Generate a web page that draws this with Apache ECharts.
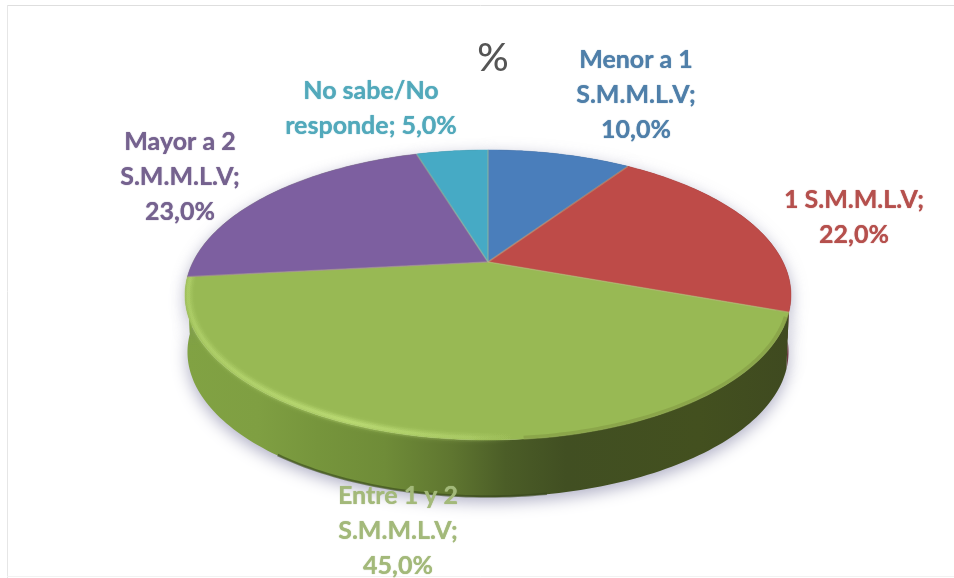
<!DOCTYPE html>
<html>
<head>
<meta charset="utf-8">
<style>
  html, body { margin: 0; padding: 0; background: #fff; }
  #chart { width: 954px; height: 578px; }
</style>
<script src="https://cdn.jsdelivr.net/npm/echarts@6/dist/echarts.min.js"></script>
</head>
<body>
<div id="chart"></div>
<script>
const categories = ['Menor a 1 S.M.M.L.V', '1 S.M.M.L.V', 'Entre 1 y 2 S.M.M.L.V', 'Mayor a 2 S.M.M.L.V', 'No sabe/No responde'];
const sliceValues = [10, 22, 45, 23, 5];
const sliceLabels = [
  'Menor a 1\nS.M.M.L.V;\n10,0%',
  '1 S.M.M.L.V;\n22,0%',
  'Entre 1 y 2\nS.M.M.L.V;\n45,0%',
  'Mayor a 2\nS.M.M.L.V;\n23,0%',
  'No sabe/No\nresponde; 5,0%'
];

const sliceColors = ['#4a7ebb', '#be4b48', '#98b954', '#7d5fa0', '#46aac5'];
const labelColors = ['#4f7fa9', '#b5504d', '#a3b97a', '#75628f', '#52a9bb'];
const labelCenters = [[636, 95], [854, 217], [398, 531], [180, 177], [371, 108]];

// the slices add up to 105, the pie is normalised like the original one
const total = sliceValues.reduce((a, b) => a + b, 0);
const startAngles = [];
sliceValues.reduce((sum, v, i) => {
  startAngles[i] = (sum / total) * Math.PI * 2;
  return sum + v;
}, 0);

// perspective of the tilted disc
const cx = 488, cy = 262, A = 295, B = 137.5, P = 0.2275, depth = 57;

function project(theta, r, drop) {
  const u = Math.sin(theta) * r;
  const v = Math.cos(theta) * r;
  const w = 1 + P * v;
  const k = drop ? 0.992 : 1;
  return [cx + (A * u * k) / w, cy - (B * v) / w + (drop || 0)];
}

function arc(from, to, r, drop) {
  const pts = [];
  const steps = Math.max(2, Math.ceil(Math.abs(to - from) / 0.02));
  for (let i = 0; i <= steps; i++) {
    pts.push(project(from + ((to - from) * i) / steps, r, drop));
  }
  return pts;
}

function sliceRange(i, value) {
  const from = startAngles[i];
  return [from, from + (value / total) * Math.PI * 2];
}

const wallFills = [
  '#2d4a70',
  '#6d2a28',
  new echarts.graphic.LinearGradient(185, 0, 790, 0, [
    { offset: 0, color: '#81a243' },
    { offset: 0.12, color: '#7f9f42' },
    { offset: 0.22, color: '#76953c' },
    { offset: 0.33, color: '#6f8c38' },
    { offset: 0.44, color: '#5f7630' },
    { offset: 0.53, color: '#4b5d27' },
    { offset: 0.63, color: '#414f22' },
    { offset: 0.85, color: '#43501f' },
    { offset: 1, color: '#3f4a20' }
  ], true),
  // only a sliver shows at the far left, the reference has it green there
  '#81a243',
  '#2a6a7a'
];

const rimStroke = new echarts.graphic.LinearGradient(185, 0, 520, 0, [
  { offset: 0, color: 'rgba(196,228,125,0.5)' },
  { offset: 0.5, color: 'rgba(200,232,128,1)' },
  { offset: 0.85, color: 'rgba(190,222,120,0.5)' },
  { offset: 1, color: 'rgba(170,200,100,0)' }
], true);

function renderWall(params, api) {
  const i = params.dataIndex;
  const [from, to] = sliceRange(i, api.value(1));
  const children = [{
    type: 'polygon',
    shape: { points: arc(from, to, 1, 0).concat(arc(to, from, 1, depth)) },
    style: {
      fill: wallFills[i],
      shadowBlur: 16,
      shadowColor: 'rgba(110,110,150,0.55)',
      shadowOffsetY: 5
    }
  }];
  if (sliceValues[i] === Math.max(...sliceValues)) {
    // darker line where the wall meets the floor
    children.push({
      type: 'polyline',
      shape: { points: arc(Math.PI * 0.95, Math.PI * 1.2, 0.998, depth) },
      style: { fill: null, stroke: 'rgba(55,70,28,0.6)', lineWidth: 2.5 }
    });
  }
  return { type: 'group', children };
}

function renderFace(params, api) {
  const i = params.dataIndex;
  const [from, to] = sliceRange(i, api.value(1));
  const children = [{
    type: 'polygon',
    shape: { points: [[cx, cy]].concat(arc(from, to, 1, 0)) },
    style: { fill: sliceColors[i], stroke: sliceColors[i], lineWidth: 0.5 }
  }];
  if (sliceValues[i] === Math.max(...sliceValues)) {
    // soft highlight along the front edge
    const rim = arc(Math.PI * 1.47, Math.PI * 0.98, 0.99, 0);
    [[9, 0.14], [6, 0.2], [3, 0.35]].forEach(([w, o]) => {
      children.push({
        type: 'polyline',
        shape: { points: rim },
        style: {
          fill: null,
          stroke: rimStroke,
          lineWidth: w,
          opacity: o,
          shadowBlur: 5,
          shadowColor: 'rgba(200,232,128,0.6)'
        }
      });
    });
    children.push({
      type: 'polyline',
      shape: { points: arc(Math.PI * 0.62, Math.PI * 0.97, 0.995, 0) },
      style: { fill: null, stroke: '#7d9340', lineWidth: 4, opacity: 0.5 }
    });
  }
  return { type: 'group', children };
}

function renderSeam(params, api) {
  const i = params.dataIndex;
  const [from] = sliceRange(i, api.value(1));
  const end = project(from, 1, 0);
  return {
    type: 'line',
    shape: { x1: cx, y1: cy, x2: end[0], y2: end[1] },
    style: { stroke: 'rgba(190,185,135,0.4)', lineWidth: 1.6 }
  };
}

function renderLabel(params) {
  const i = params.dataIndex;
  return {
    type: 'text',
    style: {
      text: sliceLabels[i],
      x: labelCenters[i][0],
      y: labelCenters[i][1],
      align: 'center',
      verticalAlign: 'middle',
      font: 'bold 25px Lato',
      lineHeight: 35,
      fill: labelColors[i],
      textShadowColor: labelColors[i],
      textShadowBlur: 1
    }
  };
}

const seriesData = sliceValues.map((v, i) => ({ name: categories[i], value: [i, v] }));

function layer(name, renderItem, z) {
  return {
    type: 'custom',
    name,
    coordinateSystem: 'none',
    renderItem,
    data: seriesData,
    z,
    silent: true,
    animation: false
  };
}

const myChart = echarts.init(document.getElementById('chart'));
myChart.setOption({
  backgroundColor: '#fff',
  animation: false,
  title: {
    text: '%',
    left: 488,
    top: 34,
    textAlign: 'center',
    textStyle: { color: '#555', fontFamily: 'Lato', fontWeight: 500, fontSize: 39 }
  },
  graphic: [
    { type: 'line', shape: { x1: 7, y1: 5.5, x2: 954, y2: 5.5 }, style: { stroke: '#dedede', lineWidth: 1 } },
    { type: 'line', shape: { x1: 7.5, y1: 5, x2: 7.5, y2: 578 }, style: { stroke: '#e6e6e6', lineWidth: 1 } },
    { type: 'line', shape: { x1: 7, y1: 576.5, x2: 954, y2: 576.5 }, style: { stroke: '#f2f2f2', lineWidth: 1 } }
  ],
  series: [
    layer('wall', renderWall, 1),
    layer('face', renderFace, 2),
    layer('seam', renderSeam, 3),
    layer('label', renderLabel, 4)
  ]
});
</script>
</body>
</html>
